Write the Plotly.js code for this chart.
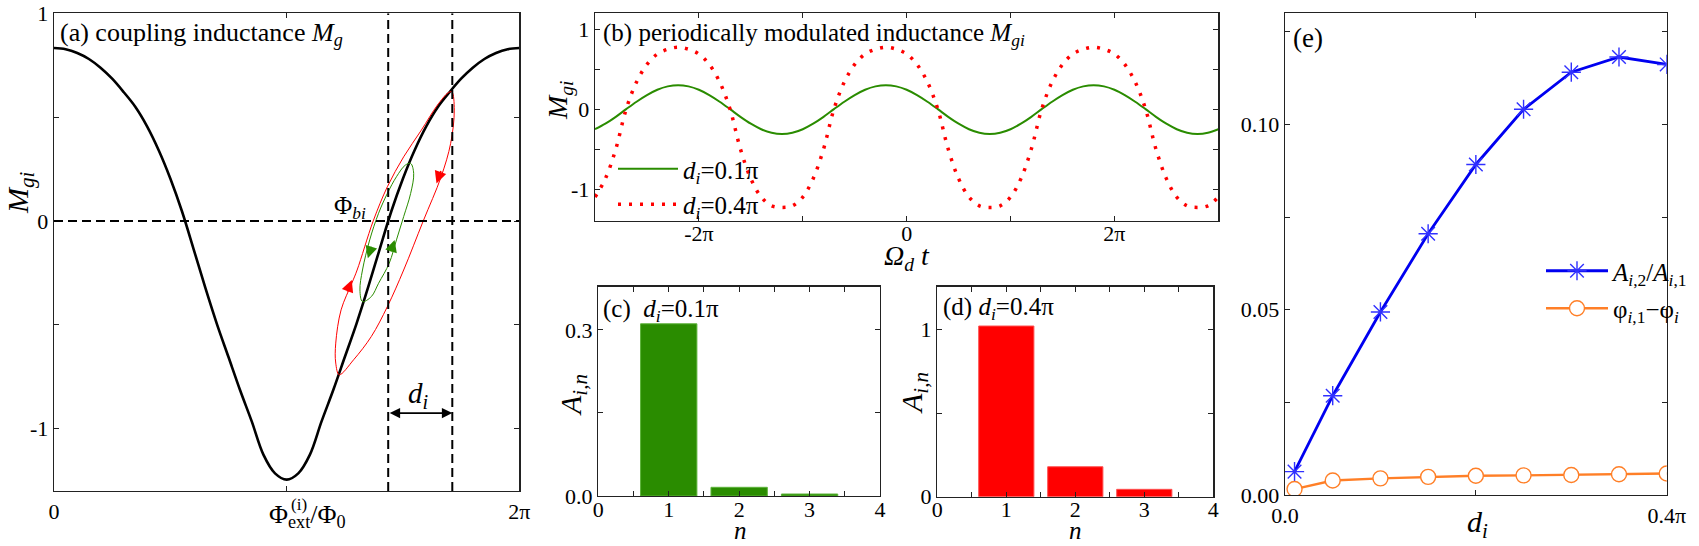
<!DOCTYPE html>
<html>
<head>
<meta charset="utf-8">
<script src="https://cdn.plot.ly/plotly-3.0.1.min.js"></script>
<style>
  html, body { margin: 0; padding: 0; background: #fff; }
  #chart { width: 1699px; height: 546px; }
</style>
</head>
<body>
<div id="chart"></div>
<script>
// ---------- (a) coupling inductance vs external flux (x in units of pi) ----------
const phiExt = [0,0.05,0.1,0.15,0.2,0.25,0.3,0.35,0.4,0.45,0.5,0.55,0.6,0.65,0.7,0.75,0.8,0.85,0.9,0.95,1,
                1.05,1.1,1.15,1.2,1.25,1.3,1.35,1.4,1.45,1.5,1.55,1.6,1.65,1.7,1.75,1.8,1.85,1.9,1.95,2];
const mg = [0.833,0.827,0.809,0.780,0.738,0.685,0.620,0.549,0.456,0.341,0.205,0.047,-0.135,-0.320,-0.495,-0.655,-0.815,-0.965,-1.125,-1.215,-1.245,
            -1.215,-1.125,-0.965,-0.815,-0.655,-0.495,-0.320,-0.135,0.047,0.205,0.341,0.456,0.549,0.620,0.685,0.738,0.780,0.809,0.827,0.833];

// bias point and modulation edge (units of pi)
const phiBias = 1.4365;
const phiEdge = 1.712;

// trajectory loops traced around the bias point
const loopRedX = [1.226,1.211,1.211,1.234,1.280,1.303,1.372,1.433,1.503,1.579,1.648,1.694,1.710,1.7205,1.705,1.664,1.587,1.503,1.433,1.364,1.288,1.226];
const loopRedY = [-0.740,-0.684,-0.588,-0.428,-0.300,-0.236,0.000,0.165,0.309,0.4375,0.558,0.617,0.622,0.534,0.374,0.213,0.000,-0.236,-0.412,-0.556,-0.668,-0.740];
const loopGreenX = [1.326,1.315,1.326,1.357,1.395,1.433,1.472,1.510,1.533,1.546,1.533,1.503,1.472,1.441,1.395,1.364,1.326];
const loopGreenY = [-0.388,-0.332,-0.236,-0.091,0.037,0.133,0.213,0.269,0.277,0.229,0.133,0.021,-0.091,-0.203,-0.300,-0.364,-0.388];

// ---------- (b) modulated inductance vs Omega_d t (x in units of pi) ----------
const omegaT = [-3,-2.9,-2.8,-2.7,-2.6,-2.5,-2.4,-2.3,-2.2,-2.1,-2,-1.9,-1.8,-1.7,-1.6,-1.5,-1.4,-1.3,-1.2,-1.1,
                -1,-0.9,-0.8,-0.7,-0.6,-0.5,-0.4,-0.3,-0.2,-0.1,0,0.1,0.2,0.3,0.4,0.5,0.6,0.7,0.8,0.9,
                1,1.1,1.2,1.3,1.4,1.5,1.6,1.7,1.8,1.9,2,2.1,2.2,2.3,2.4,2.5,2.6,2.7,2.8,2.9,3];
const mgiSmall = [-0.251,-0.182,-0.096,0,0.093,0.176,0.243,0.285,0.30,
                  0.285,0.243,0.176,0.093,0,-0.096,-0.182,-0.251,-0.295,-0.31,
                  -0.295,-0.251,-0.182,-0.096,0,0.093,0.176,0.243,0.285,0.30,
                  0.285,0.243,0.176,0.093,0,-0.096,-0.182,-0.251,-0.295,-0.31,
                  -0.295,-0.251,-0.182,-0.096,0,0.093,0.176,0.243,0.285,0.30,
                  0.285,0.243,0.176,0.093,0,-0.096,-0.182,-0.251,-0.295,-0.31,
                  -0.295,-0.251];
const mgiLarge = [-1.10,-0.87,-0.50,0,0.34,0.56,0.69,0.75,0.775,
                  0.75,0.69,0.56,0.34,0,-0.50,-0.87,-1.10,-1.21,-1.23,
                  -1.21,-1.10,-0.87,-0.50,0,0.34,0.56,0.69,0.75,0.775,
                  0.75,0.69,0.56,0.34,0,-0.50,-0.87,-1.10,-1.21,-1.23,
                  -1.21,-1.10,-0.87,-0.50,0,0.34,0.56,0.69,0.75,0.775,
                  0.75,0.69,0.56,0.34,0,-0.50,-0.87,-1.10,-1.21,-1.23,
                  -1.21,-1.10];

// ---------- (c), (d) Fourier amplitudes ----------
const harmonics = [1, 2, 3];
const ampSmall = [0.311, 0.0157, 0.0036];
const ampLarge = [1.02, 0.179, 0.044];

// ---------- (e) ratio and phase difference vs d_i (units of pi) ----------
const dValues = [0.01,0.05,0.1,0.15,0.2,0.25,0.3,0.35,0.4];
const ampRatio = [0.0063,0.0268,0.0494,0.0705,0.0892,0.1041,0.1141,0.1182,0.1162];
const phaseDiff = [0.0016,0.0039,0.0045,0.0049,0.0052,0.0053,0.0054,0.0056,0.0058];

// ---------- styling ----------
const FONT = '"Liberation Serif", "Times New Roman", serif';
const GREEN = '#2A8C00';
const RED = '#FF0000';
const BLUE = '#0000F0';
const ORANGE = '#FF7F27';
const W = 1699, H = 546;
const px = v => v / W;
const py = v => 1 - v / H;

function axis(extra, minorStep) {
  return Object.assign({
    showline: true, linecolor: '#222', linewidth: 1.3, mirror: 'ticks',
    ticks: 'inside', ticklen: 5, tickwidth: 1, tickcolor: '#222',
    tickmode: 'array',
    minor: { ticks: 'inside', ticklen: 5, tickwidth: 1, tickcolor: '#222', dtick: minorStep, tick0: 0, showgrid: false },
    showgrid: false, zeroline: false, fixedrange: true,
    tickfont: { family: FONT, size: 22, color: '#000' }
  }, extra);
}

const traces = [
  // (a)
  { x: phiExt, y: mg, xaxis: 'x', yaxis: 'y', mode: 'lines', line: { color: '#000', width: 2.6, shape: 'spline' }, showlegend: false },
  { x: loopRedX, y: loopRedY, xaxis: 'x', yaxis: 'y', mode: 'lines', line: { color: RED, width: 1, shape: 'spline', smoothing: 1 }, showlegend: false },
  { x: loopGreenX, y: loopGreenY, xaxis: 'x', yaxis: 'y', mode: 'lines', line: { color: GREEN, width: 1, shape: 'spline', smoothing: 1 }, showlegend: false },
  // (b)
  { x: omegaT, y: mgiSmall, xaxis: 'x2', yaxis: 'y2', mode: 'lines', name: '<i>d</i><sub><i>i</i></sub>=0.1π',
    line: { color: GREEN, width: 2, shape: 'spline' }, legend: 'legend' },
  { x: omegaT, y: mgiLarge, xaxis: 'x2', yaxis: 'y2', mode: 'lines', name: '<i>d</i><sub><i>i</i></sub>=0.4π',
    line: { color: RED, width: 3.5, dash: '3px,8px', shape: 'spline' }, legend: 'legend' },
  // (c)
  { x: harmonics, y: ampSmall, type: 'bar', width: 0.8, xaxis: 'x3', yaxis: 'y3', marker: { color: GREEN, line: { color: '#5DB33A', width: 1 } }, showlegend: false },
  // (d)
  { x: harmonics, y: ampLarge, type: 'bar', width: 0.8, xaxis: 'x4', yaxis: 'y4', marker: { color: RED, line: { color: '#FF5050', width: 1 } }, showlegend: false },
  // (e)
  { x: dValues, y: ampRatio, xaxis: 'x5', yaxis: 'y5', mode: 'lines+markers', name: '<i>A</i><sub><i>i</i>,2</sub>/<i>A</i><sub><i>i</i>,1</sub>',
    line: { color: BLUE, width: 2.8 }, marker: { symbol: 'asterisk-open', size: 16, color: '#3030FF', line: { color: '#3030FF', width: 1.4 } },
    legend: 'legend2', legendgroup: 'ratio' },
  { x: dValues, y: phaseDiff, xaxis: 'x5', yaxis: 'y5', mode: 'lines+markers', name: 'φ<sub><i>i</i>,1</sub>−φ<sub><i>i</i></sub>',
    line: { color: ORANGE, width: 2.4 }, marker: { symbol: 'circle', size: 15, color: '#fff', line: { color: ORANGE, width: 1.4 } },
    legend: 'legend2', legendgroup: 'phase' }
];

const txt = (text, x, y, size, extra) => Object.assign({
  text: text, x: x, y: y, xref: 'paper', yref: 'paper', showarrow: false,
  xanchor: 'left', yanchor: 'middle', font: { family: FONT, size: size, color: '#000' }
}, extra || {});

const arrow = (x, y, ax, ay, color) => ({
  x: x, y: y, xref: 'x', yref: 'y', ax: ax, ay: ay, text: '', showarrow: true,
  arrowhead: 2, arrowsize: 1.6, arrowwidth: 1.5, arrowcolor: color
});

const annotations = [
  txt('(a) coupling inductance <i>M</i><sub><i>g</i></sub>', px(58), py(34), 26),
  txt('(b) periodically modulated inductance <i>M</i><sub><i>gi</i></sub>', px(601), py(34), 25),
  txt('(c)  <i>d</i><sub><i>i</i></sub>=0.1π', px(601), py(310), 25),
  txt('(d) <i>d</i><sub><i>i</i></sub>=0.4π', px(941), py(308), 25),
  txt('(e)', px(1291), py(38), 27),
  // axis titles
  txt('<i>M</i><sub><i>gi</i></sub>', px(20), py(193), 30, { xanchor: 'center', textangle: -90 }),
  txt('<i>M</i><sub><i>gi</i></sub>', px(559), py(100), 28, { xanchor: 'center', textangle: -90 }),
  txt('<i>A</i><sub><i>i,n</i></sub>', px(573), py(395), 30, { xanchor: 'center', textangle: -90 }),
  txt('<i>A</i><sub><i>i,n</i></sub>', px(914), py(393), 30, { xanchor: 'center', textangle: -90 }),
  txt('Φ<sub>ext</sub>/Φ<sub>0</sub>', px(267), py(516), 26),
  txt('(i)', px(289), py(504), 17),
  txt('<i>Ω</i><sub><i>d</i></sub> <i>t</i>', px(907), py(257), 28, { xanchor: 'center' }),
  txt('<i>n</i>', px(740), py(530), 25, { xanchor: 'center' }),
  txt('<i>n</i>', px(1075), py(530), 25, { xanchor: 'center' }),
  txt('<i>d</i><sub><i>i</i></sub>', px(1477), py(524), 30, { xanchor: 'center' }),
  // labels inside (a)
  { text: 'Φ<sub><i>bi</i></sub>', x: 1.272, y: 0.065, xref: 'x', yref: 'y', showarrow: false,
    font: { family: FONT, size: 25, color: '#000' } },
  { text: '<i>d</i><sub><i>i</i></sub>', x: 1.565, y: -0.84, xref: 'x', yref: 'y', showarrow: false,
    font: { family: FONT, size: 29, color: '#000' } },
  { x: phiEdge, y: -0.925, ax: phiBias, ay: -0.925, xref: 'x', yref: 'y', axref: 'x', ayref: 'y',
    text: '', showarrow: true, arrowhead: 2, arrowside: 'end+start', arrowsize: 1.3, arrowwidth: 1.6, arrowcolor: '#000' },
  arrow(1.644, 0.181, 5, -14, RED),
  arrow(1.280, -0.284, -5, 13, RED),
  arrow(1.349, -0.179, 4, -13, GREEN),
  arrow(1.464, -0.091, -4, 13, GREEN)
];

const dashLine = { color: '#000', width: 2, dash: '9px,5px' };
const shapes = [
  { type: 'line', xref: 'x', yref: 'y', x0: 0, x1: 2, y0: 0, y1: 0, line: dashLine },
  { type: 'line', xref: 'x', yref: 'y', x0: phiBias, x1: phiBias, y0: -1.3, y1: 1, line: dashLine },
  { type: 'line', xref: 'x', yref: 'y', x0: phiEdge, x1: phiEdge, y0: -1.3, y1: 1, line: dashLine }
];

const layout = {
  width: W, height: H,
  margin: { l: 0, r: 0, t: 0, b: 0 },
  paper_bgcolor: '#fff', plot_bgcolor: '#fff',
  font: { family: FONT, color: '#000' },
  bargap: 0,
  xaxis: axis({ domain: [px(54), px(519.3)], range: [0, 2], tickvals: [0, 2], ticktext: ['0', '2π'], anchor: 'y' }, 1),
  yaxis: axis({ domain: [py(491), py(13.3)], range: [-1.3, 1], tickvals: [-1, 0, 1], ticktext: ['-1', '0', '1'], anchor: 'x' }, 0.5),
  xaxis2: axis({ domain: [px(595), px(1218.3)], range: [-3, 3], tickvals: [-2, 0, 2], ticktext: ['-2π', '0', '2π'], anchor: 'y2', ticklabelstandoff: -8 }, 1),
  yaxis2: axis({ domain: [py(221), py(13.3)], range: [-1.4, 1.2], tickvals: [-1, 0, 1], ticktext: ['-1', '0', '1'], anchor: 'x2' }, 0.5),
  xaxis3: axis({ domain: [px(598.3), px(880)], range: [0, 4], tickvals: [0, 1, 2, 3, 4], ticktext: ['0', '1', '2', '3', '4'], anchor: 'y3', ticklabelstandoff: -7 }, 0.5),
  yaxis3: axis({ domain: [py(496), py(286.7)], range: [0, 0.378], tickvals: [0, 0.3], ticktext: ['0.0', '0.3'], anchor: 'x3' }, 0.15),
  xaxis4: axis({ domain: [px(937.3), px(1213.3)], range: [0, 4], tickvals: [0, 1, 2, 3, 4], ticktext: ['0', '1', '2', '3', '4'], anchor: 'y4', ticklabelstandoff: -7 }, 0.5),
  yaxis4: axis({ domain: [py(496.7), py(286.7)], range: [0, 1.255], tickvals: [0, 1], ticktext: ['0', '1'], anchor: 'x4' }, 0.5),
  xaxis5: axis({ domain: [px(1285), px(1666.7)], range: [0, 0.4], tickvals: [0, 0.4], ticktext: ['0.0', '0.4π'], anchor: 'y5' }, 0.2),
  yaxis5: axis({ domain: [py(495), py(13.3)], range: [0, 0.13], tickvals: [0, 0.05, 0.1], ticktext: ['0.00', '0.05', '0.10'], anchor: 'x5' }, 0.025),
  legend: { x: px(613), y: py(146), xanchor: 'left', yanchor: 'top', bgcolor: 'rgba(0,0,0,0)',
            font: { family: FONT, size: 25, color: '#000' }, itemwidth: 60 },
  legend2: { x: px(1541), y: py(248), xanchor: 'left', yanchor: 'top', bgcolor: 'rgba(0,0,0,0)',
             font: { family: FONT, size: 25, color: '#000' }, itemwidth: 62,
             traceorder: 'grouped', tracegroupgap: 2 },
  annotations: annotations,
  shapes: shapes
};

Plotly.newPlot('chart', traces, layout, { displayModeBar: false, staticPlot: true });
</script>
</body>
</html>
